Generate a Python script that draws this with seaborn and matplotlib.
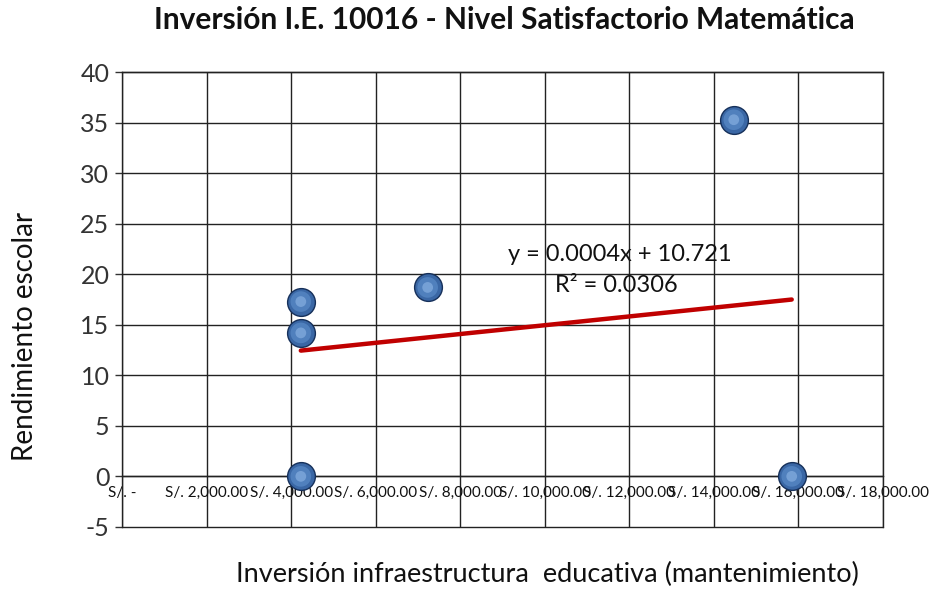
import matplotlib
matplotlib.use("Agg")
import matplotlib.pyplot as plt
import seaborn as sns
import pandas as pd

# Data
inversion = [4230, 4230, 4230, 7230, 14470, 15840]
rendimiento = [17.3, 14.2, 0.0, 18.7, 35.3, 0.0]
x_ticks = [0, 2000, 4000, 6000, 8000, 10000, 12000, 14000, 16000, 18000]
x_tick_labels = ["S/. -", "S/. 2,000.00", "S/. 4,000.00", "S/. 6,000.00", "S/. 8,000.00",
                 "S/. 10,000.00", "S/. 12,000.00", "S/. 14,000.00", "S/. 16,000.00", "S/. 18,000.00"]
y_ticks = [-5, 0, 5, 10, 15, 20, 25, 30, 35, 40]
trend_slope = 0.0004
trend_intercept = 10.721
r_squared = 0.0306

title = "Inversión I.E. 10016 - Nivel Satisfactorio Matemática"
x_label = "Inversión infraestructura  educativa (mantenimiento)"
y_label = "Rendimiento escolar"

df = pd.DataFrame({"x": inversion, "y": rendimiento})

sns.set_theme(style="white")
plt.rcParams["font.family"] = ["Lato", "DejaVu Sans"]
plt.rcParams["axes.unicode_minus"] = False

fig = plt.figure(figsize=(9.31, 5.92), dpi=100)
ax = fig.add_axes([0.131, 0.110, 0.8175, 0.768])

# trend line (linear fit over data range)
sns.regplot(data=df, x="x", y="y", ax=ax, scatter=False, ci=None, truncate=True,
            line_kws={"color": "#c00000", "linewidth": 3.2, "solid_capstyle": "round", "zorder": 3})

# spheres: body with dark rim, soft lighter core
sns.scatterplot(data=df, x="x", y="y", ax=ax, s=400, color="#3a67a5",
                edgecolor="#16305a", linewidth=1.0, zorder=4, legend=False)
sns.scatterplot(data=df, x="x", y="y", ax=ax, s=220, color="#5a8cc8",
                edgecolor="none", linewidth=0, zorder=5, legend=False, alpha=0.7)
sns.scatterplot(data=df, x="x", y="y", ax=ax, s=60, color="#8fb6e6",
                edgecolor="none", linewidth=0, zorder=6, legend=False, alpha=0.6)

ax.set_xlim(0, 18000)
ax.set_ylim(-5, 40)
ax.set_xticks(x_ticks)
ax.set_xticklabels(x_tick_labels, fontsize=8.3)
ax.set_yticks(y_ticks)
ax.tick_params(axis="y", labelsize=18, length=5, width=1, color="#333333", direction="out",
               left=True, pad=4, labelcolor="#333333")
ax.tick_params(axis="x", length=0, pad=7, labelcolor="#111111")

ax.grid(True, color="#222222", linewidth=1.0)
for gl in ax.get_ygridlines() + ax.get_xgridlines():
    gl.set_clip_on(False)

for side in ["left", "right", "top"]:
    ax.spines[side].set_visible(True)
    ax.spines[side].set_color("#222222")
    ax.spines[side].set_linewidth(1.0)
ax.spines["bottom"].set_position(("data", 0))
ax.spines["bottom"].set_color("#222222")
ax.spines["bottom"].set_linewidth(1.0)

ax.set_xlabel("")
ax.set_ylabel("")
fig.text(0.542, 0.966, title, ha="center", va="center", fontsize=21.5, fontweight="bold", color="#111111")
fig.text(0.588, 0.029, x_label, ha="center", va="center", fontsize=19.5, color="#111111")
fig.text(0.027, 0.432, y_label, ha="center", va="center", rotation=90, fontsize=20, color="#111111")

ax.text(11770, 22.0, f"y = {trend_slope}x + {trend_intercept}", ha="center", va="center",
        fontsize=17, color="#111111", zorder=8)
ax.text(11700, 18.9, f"R² = {r_squared}", ha="center", va="center",
        fontsize=17, color="#111111", zorder=8)

fig.savefig("out.png", dpi=100, facecolor="white")
